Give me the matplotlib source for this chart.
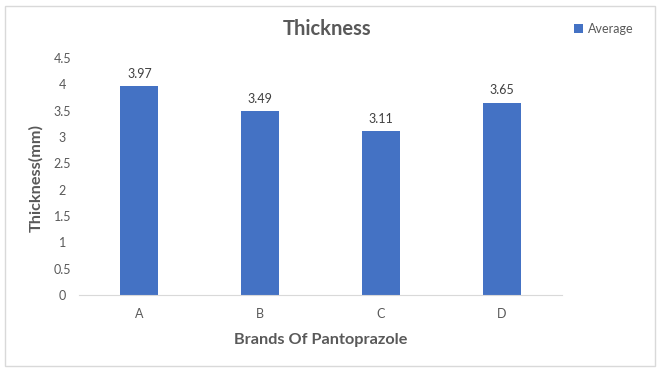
import matplotlib
matplotlib.use("Agg")
import matplotlib.pyplot as plt
from matplotlib.patches import Rectangle

brands = ["A", "B", "C", "D"]
average = [3.97, 3.49, 3.11, 3.65]
yticks = [0, 0.5, 1, 1.5, 2, 2.5, 3, 3.5, 4, 4.5]
ytick_labels = ["0", "0.5", "1", "1.5", "2", "2.5", "3", "3.5", "4", "4.5"]

plt.rcParams['font.family'] = ['Lato', 'DejaVu Sans']
gray = "#595959"
blue = "#4472C4"

fig = plt.figure(figsize=(6.61, 3.72), dpi=100)
fig.patch.set_facecolor("white")
fig.add_artist(Rectangle((5/661, 6/372), 650/661, 360/372, transform=fig.transFigure,
                         fill=False, edgecolor="#d9d9d9", linewidth=1))

ax = fig.add_axes([79/661, 1 - 295/372, (562 - 79)/661, (295 - 58)/372])
x = range(len(brands))
bars = ax.bar(x, average, width=0.315, color=blue, label="Average")
for xi, v in zip(x, average):
    ax.text(xi, v + 0.12, f"{v:.2f}", ha="center", va="bottom", fontsize=9, color="#404040")

ax.set_xlim(-0.5, len(brands) - 0.5)
ax.set_ylim(0, 4.5)
ax.set_yticks(yticks)
ax.set_yticklabels(ytick_labels)
ax.set_xticks(list(x))
ax.set_xticklabels(brands)
ax.tick_params(axis="both", length=0, labelsize=9, colors=gray)
ax.tick_params(axis="y", pad=12)
ax.tick_params(axis="x", pad=9)
for lbl in ax.get_yticklabels():
    lbl.set_horizontalalignment("center")
for s in ["top", "right", "left"]:
    ax.spines[s].set_visible(False)
ax.spines["bottom"].set_color("#d9d9d9")

ax.set_xlabel("Brands Of Pantoprazole", fontsize=11.7, fontweight="bold", color=gray, labelpad=10)
fig.text(36/661, 1 - 178/372, "Thickness(mm)", rotation=90, ha="center", va="center",
         fontsize=11.7, fontweight="bold", color=gray)
fig.text(327/661, 1 - 29/372, "Thickness", ha="center", va="center", fontsize=14.5,
         fontweight="bold", color=gray)
fig.legend(handles=[bars], labels=["Average"], loc="center left",
           bbox_to_anchor=(563/661, 1 - 29/372), frameon=False, fontsize=9,
           handlelength=0.7, handleheight=0.7, handletextpad=0.4, labelcolor=gray)

fig.savefig("out.png", dpi=100)
